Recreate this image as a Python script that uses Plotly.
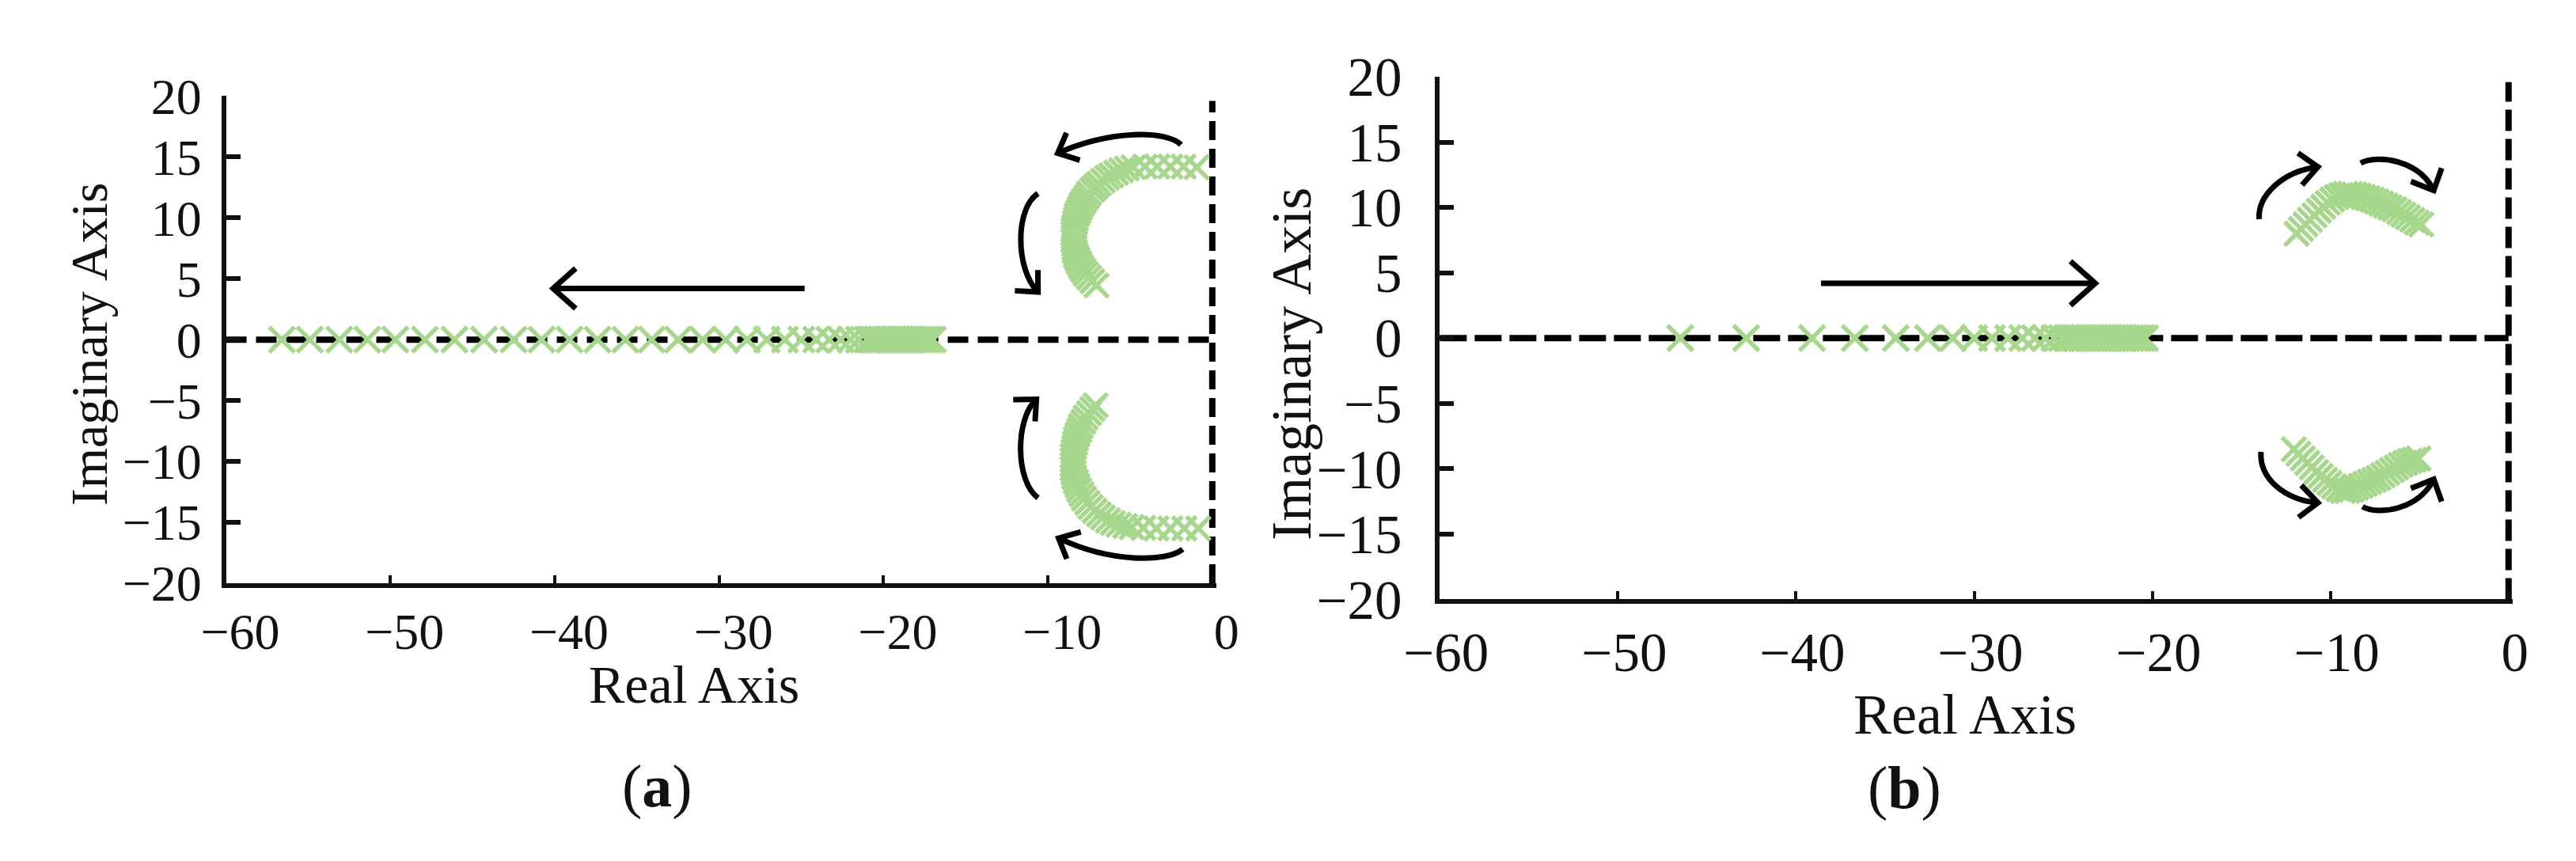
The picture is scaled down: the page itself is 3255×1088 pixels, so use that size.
import math
import plotly.graph_objects as go

W, H = 3255, 1088

# ---------------- data ----------------
# panel (a): poles on the real axis
a_axis_re = [-56.6, -54.9, -53.1, -51.4, -49.7, -47.9, -46.1, -44.3, -42.5, -40.8,
             -39.1, -37.4, -35.7, -34.1, -32.5, -31.0, -29.6, -28.3, -27.1, -26.0,
             -25.0, -24.1, -23.3, -22.6, -22.0, -21.5,
             -21.0, -20.8, -20.6, -20.4, -20.2, -20.0, -19.8, -19.6, -19.4, -19.2,
             -19.0, -18.8, -18.6, -18.4, -18.2, -18.0, -17.8, -17.6, -17.4, -17.2, -17.0]
a_axis_im = [0.0] * len(a_axis_re)

# panel (a): upper complex branch
a_up_re = [-0.95, -1.75, -2.55, -3.35, -4.1, -4.8, -5.2, -5.55, -5.85, -6.15, -6.4, -6.65,
           -6.9, -7.1, -7.3, -7.5, -7.65, -7.8, -7.95, -8.05, -8.15, -8.25, -8.3, -8.35,
           -8.4, -8.45, -8.45, -8.45, -8.45, -8.4, -8.4, -8.35, -8.3, -8.2, -8.1, -8.0,
           -7.85, -7.7, -7.5, -7.3, -7.05]
a_up_im = [14.15, 14.2, 14.2, 14.2, 14.2, 14.15, 14.05, 13.9, 13.7, 13.5, 13.3, 13.05,
           12.8, 12.55, 12.3, 12.0, 11.7, 11.4, 11.1, 10.8, 10.5, 10.2, 9.9, 9.6,
           9.3, 9.0, 8.7, 8.4, 8.1, 7.8, 7.5, 7.2, 6.9, 6.6, 6.3, 6.0,
           5.7, 5.4, 5.1, 4.8, 4.45]

# panel (a): lower complex branch
a_lo_re = [-0.85, -1.7, -2.55, -3.4, -4.2, -4.9, -5.3, -5.7, -6.05, -6.35, -6.65, -6.9,
           -7.15, -7.4, -7.6, -7.8, -7.95, -8.1, -8.2, -8.3, -8.4, -8.45, -8.5, -8.5,
           -8.5, -8.5, -8.45, -8.4, -8.35, -8.3, -8.2, -8.1, -8.0, -7.85, -7.7, -7.5,
           -7.3, -7.1]
a_lo_im = [-15.5, -15.5, -15.5, -15.5, -15.45, -15.4, -15.3, -15.2, -15.05, -14.85, -14.6, -14.35,
           -14.05, -13.75, -13.4, -13.05, -12.7, -12.35, -12.0, -11.65, -11.3, -10.95, -10.6, -10.25,
           -9.9, -9.55, -9.2, -8.85, -8.5, -8.15, -7.8, -7.45, -7.1, -6.75, -6.4, -6.05,
           -5.7, -5.4]

# panel (b): poles on the real axis
b_axis_re = [-46.5, -42.8, -39.1, -36.7, -34.4, -32.6, -31.2, -30.0, -29.0, -28.1,
             -27.3, -26.6, -26.0, -25.5, -25.1,
             -24.8, -24.6, -24.4, -24.2, -24.0, -23.8, -23.6, -23.4, -23.2, -23.0,
             -22.8, -22.6, -22.4, -22.2, -22.0, -21.8, -21.6, -21.4, -21.2, -21.0,
             -20.8, -20.6, -20.4]
b_axis_im = [0.0] * len(b_axis_re)

# panel (b): upper complex cluster
b_up_re = [-11.9, -11.65, -11.4, -11.15, -10.9, -10.65, -10.4, -10.15, -9.9, -9.65,
           -9.4, -9.15, -8.9, -8.65, -8.4, -8.15, -7.9, -7.65, -7.4, -7.15,
           -6.9, -6.65, -6.4, -6.15, -5.9, -5.65, -5.4, -5.15, -4.9]
b_up_im = [8.0, 8.35, 8.7, 9.05, 9.4, 9.75, 10.05, 10.35, 10.6, 10.8,
           10.95, 11.05, 11.05, 11.0, 10.9, 10.8, 10.7, 10.6, 10.45, 10.3,
           10.15, 10.0, 9.85, 9.65, 9.45, 9.25, 9.05, 8.85, 8.7]

# panel (b): lower complex cluster
b_lo_re = [-12.05, -11.8, -11.55, -11.3, -11.05, -10.8, -10.55, -10.3, -10.05, -9.8,
           -9.55, -9.3, -9.05, -8.8, -8.55, -8.3, -8.05, -7.8, -7.55, -7.3,
           -7.05, -6.8, -6.55, -6.3, -6.05, -5.8, -5.55, -5.3, -5.05]
b_lo_im = [-8.5, -8.85, -9.2, -9.55, -9.9, -10.25, -10.55, -10.85, -11.1, -11.35,
           -11.55, -11.7, -11.7, -11.6, -11.45, -11.3, -11.15, -11.0, -10.85, -10.7,
           -10.5, -10.3, -10.1, -9.9, -9.7, -9.55, -9.4, -9.3, -9.2]

# axes
x_tickvals = [-60, -50, -40, -30, -20, -10, 0]
y_tickvals = [-20, -15, -10, -5, 0, 5, 10, 15, 20]
x_range = [-60, 0.25]
y_range = [-20, 20]

# ---------------- styling / layout geometry ----------------
GREEN = "#A6D78C"
INK = "#111111"
FONT = "Liberation Serif, Times New Roman, serif"

# pixel boxes of the two plot areas
A_BOX = dict(x0=237, x1=1518, ytop=82, ybot=744)
B_BOX = dict(x0=1807, x1=3195, ytop=56, ybot=766)


def dom_x(b):
    return [b["x0"] / W, b["x1"] / W]


def dom_y(b):
    return [(H - b["ybot"]) / H, (H - b["ytop"]) / H]


def scales(b):
    sx = (b["x1"] - b["x0"]) / (x_range[1] - x_range[0])
    sy = (b["ybot"] - b["ytop"]) / (y_range[1] - y_range[0])
    return sx, sy


fig = go.Figure()


def add_lines(xa, ya, dash_h, dash_v, wid):
    fig.add_trace(go.Scatter(x=[x_range[0], 0], y=[0, 0], mode="lines", xaxis=xa, yaxis=ya,
                             line=dict(color="#000", width=wid, dash=dash_h),
                             hoverinfo="skip", showlegend=False))
    fig.add_trace(go.Scatter(x=[0, 0], y=[y_range[0], 19.6], mode="lines", xaxis=xa, yaxis=ya,
                             line=dict(color="#000", width=wid, dash=dash_v),
                             hoverinfo="skip", showlegend=False))


def add_poles(xs, ys, xa, ya, size):
    fig.add_trace(go.Scatter(x=xs, y=ys, mode="markers", xaxis=xa, yaxis=ya,
                             marker=dict(symbol="x-thin-open", size=size, color=GREEN,
                                         line=dict(color=GREEN, width=5.5)),
                             showlegend=False, cliponaxis=False))


add_lines("x", "y", "26px,12px", "24px,11px", 8)
add_lines("x2", "y2", "34px,10px", "27px,10px", 8)

add_poles(a_axis_re, a_axis_im, "x", "y", 32)
add_poles(a_up_re, a_up_im, "x", "y", 30)
add_poles(a_lo_re, a_lo_im, "x", "y", 30)
add_poles(b_axis_re, b_axis_im, "x2", "y2", 32)
add_poles(b_up_re, b_up_im, "x2", "y2", 30)
add_poles(b_lo_re, b_lo_im, "x2", "y2", 30)

# ---------------- arrows (annotation geometry) ----------------
shapes = []


def chevron(tip, frm, box, L, half_deg):
    sx, sy = scales(box)
    tx, ty = tip
    fx, fy = frm
    ux, uy = (tx - fx) * sx, -(ty - fy) * sy
    n = math.hypot(ux, uy)
    bx, by = -ux / n, -uy / n
    pts = []
    for s in (1, -1):
        a = math.radians(half_deg) * s
        rx = bx * math.cos(a) - by * math.sin(a)
        ry = bx * math.sin(a) + by * math.cos(a)
        pts.append((tx + rx * L / sx, ty - ry * L / sy))
    return f"M {pts[0][0]},{pts[0][1]} L {tx},{ty} L {pts[1][0]},{pts[1][1]}"


def straight_arrow(tail, tip, box, xr, yr, w, L):
    shapes.append(dict(type="line", xref=xr, yref=yr, x0=tail[0], y0=tail[1], x1=tip[0], y1=tip[1],
                       line=dict(color="#000", width=w), layer="above"))
    shapes.append(dict(type="path", xref=xr, yref=yr, path=chevron(tip, tail, box, L, 43),
                       line=dict(color="#000", width=w), layer="above"))


def curved_arrow(p0, c1, c2, tip, box, xr, yr, w, L):
    path = f"M {p0[0]},{p0[1]} C {c1[0]},{c1[1]} {c2[0]},{c2[1]} {tip[0]},{tip[1]}"
    shapes.append(dict(type="path", xref=xr, yref=yr, path=path,
                       line=dict(color="#000", width=w), layer="above"))
    shapes.append(dict(type="path", xref=xr, yref=yr, path=chevron(tip, c2, box, L, 43),
                       line=dict(color="#000", width=w), layer="above"))


# panel (a)
straight_arrow((-24.8, 4.2), (-40.1, 4.2), A_BOX, "x", "y", 7, 40)
curved_arrow((-1.9, 16.0), (-2.8, 17.2), (-6.2, 17.2), (-9.4, 15.3), A_BOX, "x", "y", 7, 30)
curved_arrow((-10.6, 12.0), (-12.0, 10.8), (-12.0, 5.8), (-10.6, 3.9), A_BOX, "x", "y", 7, 30)
curved_arrow((-10.6, -13.0), (-12.0, -11.6), (-12.0, -6.5), (-10.7, -4.9), A_BOX, "x", "y", 7, 30)
curved_arrow((-1.8, -17.2), (-2.8, -18.3), (-6.2, -18.3), (-9.35, -16.3), A_BOX, "x", "y", 7, 30)

# panel (b)
straight_arrow((-38.6, 4.2), (-23.2, 4.2), B_BOX, "x2", "y2", 7, 44)
curved_arrow((-14.0, 9.1), (-14.1, 11.0), (-12.6, 12.8), (-10.7, 13.1), B_BOX, "x2", "y2", 7, 32)
curved_arrow((-8.3, 13.4), (-7.3, 14.1), (-5.0, 13.6), (-4.2, 11.3), B_BOX, "x2", "y2", 7, 32)
curved_arrow((-13.9, -8.7), (-14.0, -10.8), (-12.5, -12.4), (-10.7, -12.6), B_BOX, "x2", "y2", 7, 32)
curved_arrow((-8.2, -12.9), (-7.3, -13.6), (-5.0, -13.1), (-4.2, -10.8), B_BOX, "x2", "y2", 7, 32)

# ---------------- axes ----------------
def xaxis(box, fs, shift, standoff, anchor):
    return dict(domain=dom_x(box), range=x_range, anchor=anchor, tickmode="array",
                tickvals=x_tickvals, ticks="inside", ticklen=10, tickwidth=4, tickcolor=INK,
                showline=True, linecolor=INK, linewidth=6, mirror=False, showgrid=False,
                zeroline=False, tickfont=dict(family=FONT, size=fs, color=INK),
                ticklabelshift=shift, ticklabelstandoff=standoff, fixedrange=True)


def yaxis(box, fs, standoff, anchor):
    return dict(domain=dom_y(box), range=y_range, anchor=anchor, tickmode="array",
                tickvals=y_tickvals, ticks="inside", ticklen=18, tickwidth=6, tickcolor=INK,
                showline=True, linecolor=INK, linewidth=6, mirror=False, showgrid=False,
                zeroline=False, tickfont=dict(family=FONT, size=fs, color=INK),
                ticklabelstandoff=standoff, fixedrange=True)


def px_ann(text, x, y, size, angle=0):
    return dict(text=text, x=x / W, y=1 - y / H, xref="paper", yref="paper",
                xanchor="center", yanchor="middle", showarrow=False, textangle=angle,
                font=dict(family=FONT, size=size, color=INK))


annotations = [
    px_ann("Imaginary Axis", 60, 419, 66, -90),
    px_ann("Real Axis", 842, 882, 68),
    px_ann("(<b>a</b>)", 795, 1020, 76),
    px_ann("Imaginary Axis", 1615, 446, 72, -90),
    px_ann("Real Axis", 2486, 922, 72),
    px_ann("(<b>b</b>)", 2408, 1022, 76),
]

fig.update_layout(
    width=W, height=H, margin=dict(l=0, r=0, t=0, b=0),
    paper_bgcolor="white", plot_bgcolor="white",
    xaxis=xaxis(A_BOX, 64, 18, 0, "y"),
    yaxis=yaxis(A_BOX, 64, 12, "x"),
    xaxis2=xaxis(B_BOX, 69, 8, 2, "y2"),
    yaxis2=yaxis(B_BOX, 69, 28, "x2"),
    shapes=shapes,
    annotations=annotations,
    showlegend=False,
)

fig.write_html("out.html")
